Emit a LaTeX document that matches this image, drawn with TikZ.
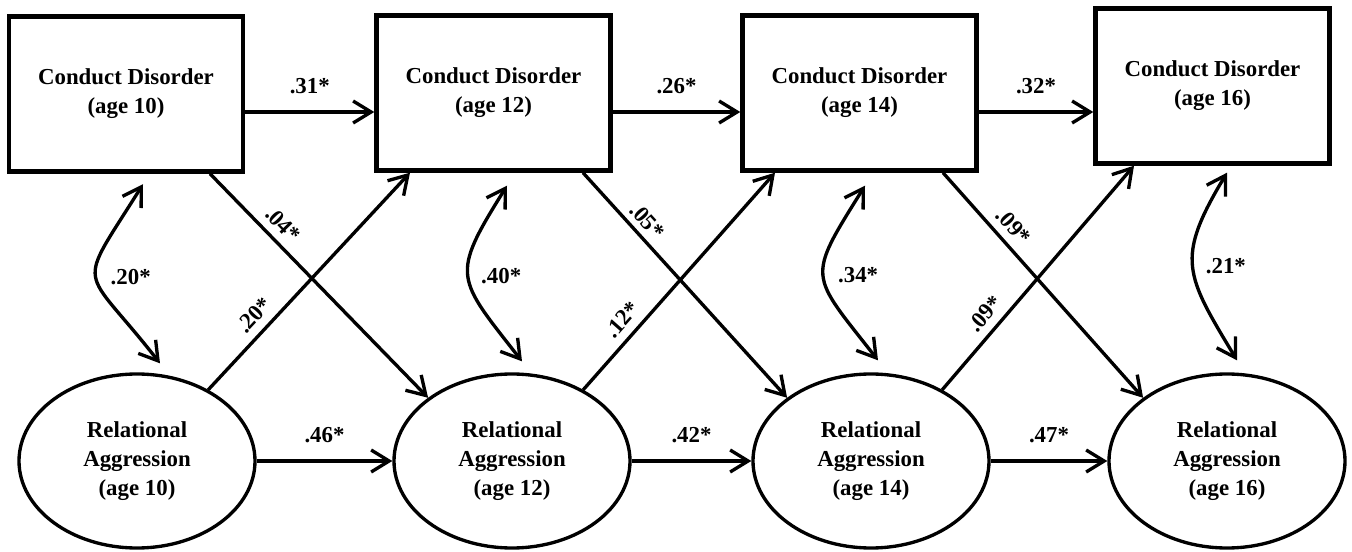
\documentclass[tikz,border=0pt]{standalone}
\usepackage{fontspec}
\setmainfont{Liberation Serif}
\usetikzlibrary{shapes,arrows.meta,calc}

\tikzset{
  cdbox/.style={draw, rectangle, line width=2.5pt, minimum width=4.68cm,
    minimum height=3.1cm, align=center, font=\bfseries\fontsize{13}{16.5}\selectfont},
  raell/.style={draw, ellipse, line width=1.9pt, minimum width=4.72cm,
    minimum height=3.48cm, align=center, font=\bfseries\fontsize{13}{16.3}\selectfont},
  coef/.style={font=\bfseries\fontsize{13}{15}\selectfont},
  link/.style={line width=1.9pt}
}

\begin{document}
\begin{tikzpicture}[>={Straight Barb[length=3.6mm,width=4.4mm]}]
  \useasboundingbox (0,0) rectangle (27.04,11.02);

  % conduct disorder
  \node[cdbox] (cd10) at (2.52,9.14) {Conduct Disorder\\(age 10)};
  \node[cdbox] (cd12) at (9.87,9.16) {Conduct Disorder\\(age 12)};
  \node[cdbox] (cd14) at (17.19,9.16) {Conduct Disorder\\(age 14)};
  \node[cdbox] (cd16) at (24.25,9.30) {Conduct Disorder\\(age 16)};

  % relational aggression
  \node[raell] (ra10) at (2.74,1.8) {Relational\\Aggression\\(age 10)};
  \node[raell] (ra12) at (10.24,1.8) {Relational\\Aggression\\(age 12)};
  \node[raell] (ra14) at (17.42,1.8) {Relational\\Aggression\\(age 14)};
  \node[raell] (ra16) at (24.54,1.8) {Relational\\Aggression\\(age 16)};

  % stability paths
  \path[->, link] ([yshift=-0.36cm]cd10.east) edge node[coef, midway, above=6pt] {.31*} ([yshift=-0.38cm]cd12.west);
  \path[->, link] ([yshift=-0.38cm]cd12.east) edge node[coef, midway, above=6pt] {.26*} ([yshift=-0.38cm]cd14.west);
  \path[->, link] ([yshift=-0.38cm]cd14.east) edge node[coef, midway, above=6pt] {.32*} ([yshift=-0.52cm]cd16.west);

  \path[->, link] (ra10.east) edge node[coef, midway, above=6pt] {.46*} (ra12.west);
  \path[->, link] (ra12.east) edge node[coef, midway, above=6pt] {.42*} (ra14.west);
  \path[->, link] (ra14.east) edge node[coef, midway, above=6pt] {.47*} (ra16.west);

  % cross-lagged paths
  \path[->, link] ([xshift=1.68cm]cd10.south) edge node[coef, pos=0.28, sloped, above=1pt] {.04*} (ra12.143);
  \path[->, link] (ra10.45) edge node[coef, pos=0.29, sloped, above=1pt] {.20*} ([xshift=-1.67cm]cd12.south);
  \path[->, link] ([xshift=1.79cm]cd12.south) edge node[coef, pos=0.26, sloped, above=0pt] {.05*} (ra14.143);
  \path[->, link] (ra12.45) edge node[coef, pos=0.27, sloped, above=1pt] {.12*} ([xshift=-1.69cm]cd14.south);
  \path[->, link] ([xshift=1.67cm]cd14.south) edge node[coef, pos=0.29, sloped, above=1pt] {.09*} (ra16.143);
  \path[->, link] (ra14.45) edge node[coef, pos=0.29, sloped, above=1pt] {.09*} ([xshift=-1.57cm]cd16.south);

  % within-time correlations
  \path[<->, link] ($(cd10.south)+(0.34,-0.21)$) edge[out=238, in=128, looseness=1.83]
    node[coef, midway, right=4pt] {.20*} ($(ra10.north)+(0.46,0.18)$);
  \path[<->, link] ($(cd12.south)+(0.27,-0.26)$) edge[out=238, in=128, looseness=1.56]
    node[coef, midway, right=3pt] {.40*} ($(ra12.north)+(0.2,0.22)$);
  \path[<->, link] ($(cd14.south)+(0.11,-0.26)$) edge[out=238, in=128, looseness=1.63]
    node[coef, midway, right=4pt] {.34*} ($(ra14.north)+(0.14,0.24)$);
  \path[<->, link] ($(cd16.south)+(0.29,-0.14)$) edge[out=239, in=121, looseness=1.37]
    node[coef, midway, right=3pt] {.21*} ($(ra16.north)+(0.2,0.24)$);
\end{tikzpicture}
\end{document}
